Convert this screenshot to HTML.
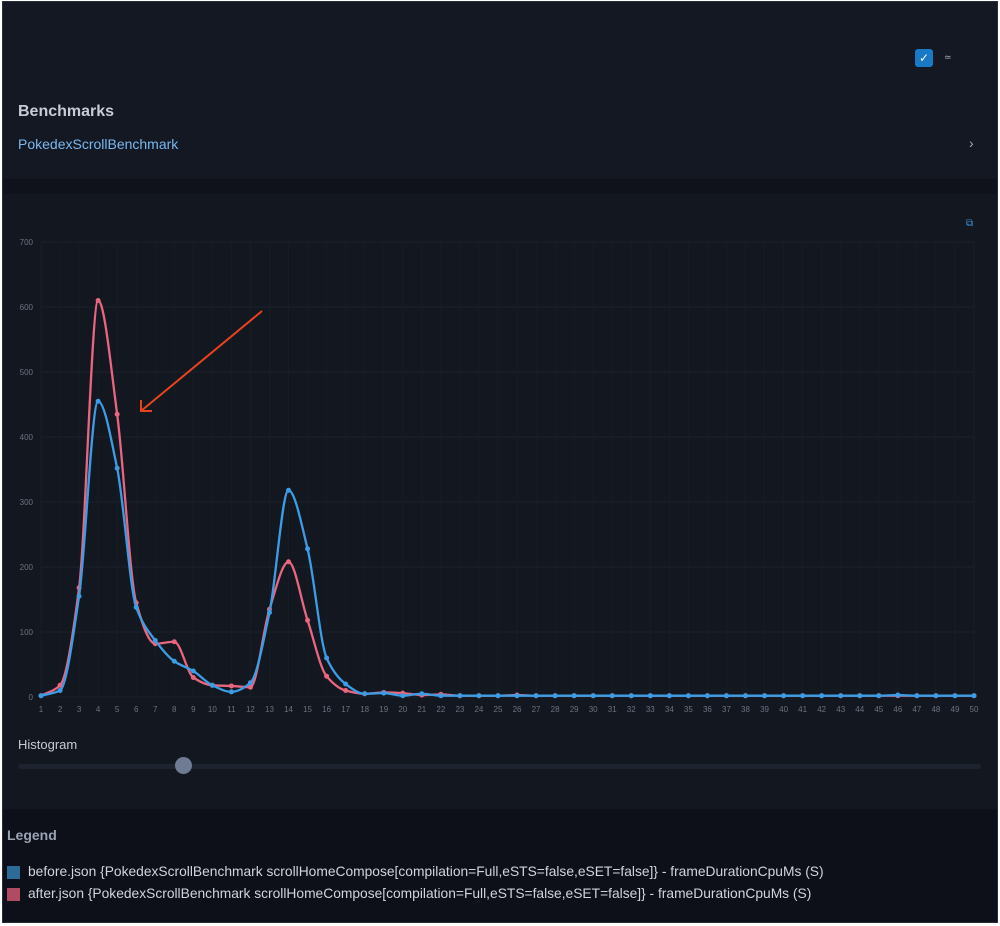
<!DOCTYPE html>
<html><head><meta charset="utf-8"><style>
html,body{margin:0;padding:0;background:#fff}
body{width:1000px;height:926px;position:relative;overflow:hidden;font-family:"Liberation Sans",sans-serif}
#frame{position:absolute;left:2px;top:1px;width:996px;height:922px;background:#0d1018;border:1px solid #2a2e38;box-sizing:border-box}
#hdr{position:absolute;left:0;top:0;width:994px;height:177px;background:#141822}
#strip{position:absolute;left:0;top:177px;width:994px;height:15px;background:#0f121a}
#chart{position:absolute;left:0;top:192px;width:994px;height:615px;background:#131720}
.t{position:absolute;white-space:nowrap}
</style></head><body>
<div id="frame">
<div id="hdr">
 <div class="t" style="left:912px;top:47px;width:18px;height:18px;background:#1a79c7;border-radius:3px;color:#fff;font-size:12px;text-align:center;line-height:18px">✓</div>
 <div class="t" style="left:941px;top:50px;color:#aaa;font-size:9px">≃</div>
 <div class="t" style="left:15px;top:101px;color:#c8ccd4;font-size:16px;font-weight:bold">Benchmarks</div>
 <div class="t" style="left:15px;top:134px;color:#7ab8f0;font-size:14px">PokedexScrollBenchmark</div>
 <div class="t" style="left:966px;top:133px;color:#aaa;font-size:14px">›</div>
</div>
<div id="strip"></div>
<div id="chart">
 <div class="t" style="left:963px;top:24px;color:#3a8fd6;font-size:10px">⧉</div>
 <div class="t" style="left:15px;top:543px;color:#c8ccd4;font-size:13px">Histogram</div>
 <div class="t" style="left:15px;top:570px;width:963px;height:5px;background:#1e2330;border-radius:3px"></div>
 <div class="t" style="left:172px;top:563px;width:17px;height:17px;background:#6f7a93;border-radius:50%"></div>
</div>
<div class="t" style="left:4px;top:825px;color:#9aa3b5;font-size:14px;font-weight:bold">Legend</div>
<div class="t" style="left:4px;top:864px;width:13px;height:13px;background:#2f6b98"></div>
<div class="t" style="left:25px;top:862px;color:#d0d4dc;font-size:13.8px">before.json {PokedexScrollBenchmark scrollHomeCompose[compilation=Full,eSTS=false,eSET=false]} - frameDurationCpuMs (S)</div>
<div class="t" style="left:4px;top:886px;width:13px;height:13px;background:#b14a63"></div>
<div class="t" style="left:25px;top:884px;color:#d0d4dc;font-size:13.8px">after.json {PokedexScrollBenchmark scrollHomeCompose[compilation=Full,eSTS=false,eSET=false]} - frameDurationCpuMs (S)</div>
</div>
<svg id="s" width="1000" height="926" style="position:absolute;left:0;top:0" font-family="Liberation Sans, sans-serif"></svg>
<script>
var s=document.getElementById('s'),h='';
function X(i){return 41+(i-1)*933/49}function Y(v){return 697-v*0.65}
for(var v=0;v<=700;v+=100){h+='<line x1="41" x2="975" y1="'+Y(v)+'" y2="'+Y(v)+'" stroke="#1c212b" stroke-width="1"/>';h+='<text x="33" y="'+(Y(v)+3)+'" fill="#6b7280" font-size="8" text-anchor="end">'+v+'</text>';}
for(var i=1;i<=50;i++){h+='<line x1="'+X(i)+'" x2="'+X(i)+'" y1="242" y2="697" stroke="#181c25"/>';h+='<text x="'+X(i)+'" y="712" fill="#6b7280" font-size="8" text-anchor="middle">'+i+'</text>';}
var B=[2,10,155,455,352,138,87,55,40,18,8,22,130,318,228,60,20,5,6,2,5,2,2,2,2,2];
var R=[2,18,168,610,435,145,82,85,30,18,17,15,135,208,118,32,10,5,7,6,3,4,2,2,2,3];
while(B.length<50)B.push(2);while(R.length<50)R.push(2);
B[45]=3;
function path(d){var n=d.length,dx=933/49,m=[],t=[];
for(var i=0;i<n-1;i++)m.push((Y(d[i+1])-Y(d[i]))/dx);
for(i=0;i<n;i++){if(i==0)t.push(m[0]);else if(i==n-1)t.push(m[n-2]);else{var a=m[i-1],b=m[i];t.push(a*b<=0?0:2/(1/a+1/b));}}
var o='M'+X(1)+','+Y(d[0]);
for(i=0;i<n-1;i++){var x0=X(i+1),x1=X(i+2),y0=Y(d[i]),y1=Y(d[i+1]);
o+=' C'+(x0+dx/3)+','+(y0+t[i]*dx/3)+' '+(x1-dx/3)+','+(y1-t[i+1]*dx/3)+' '+x1+','+y1;}return o;}
function ser(d,c){h+='<path d="'+path(d)+'" fill="none" stroke="'+c+'" stroke-width="2.3"/>';d.forEach(function(v,i){h+='<circle cx="'+X(i+1)+'" cy="'+Y(v)+'" r="2.5" fill="'+c+'"/>'});}
ser(R,'#e8667e');ser(B,'#3c9de4');
h+='<line x1="262" y1="311" x2="141" y2="411" stroke="#e8421f" stroke-width="2"/><polyline points="141,400 141,411 152,411" fill="none" stroke="#e8421f" stroke-width="2"/>';
s.innerHTML=h;
</script>
</body></html>
